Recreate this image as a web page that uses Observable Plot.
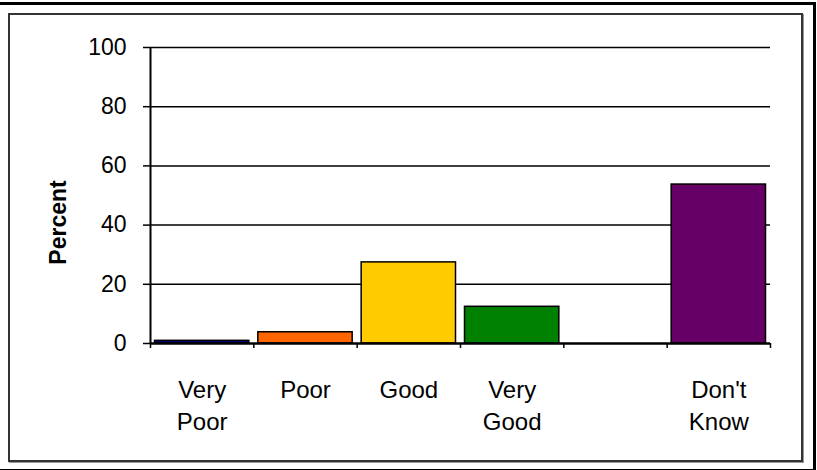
<!DOCTYPE html>
<html>
<head>
<meta charset="utf-8">
<script src="https://cdn.jsdelivr.net/npm/d3@7"></script>
<script src="https://cdn.jsdelivr.net/npm/@observablehq/plot@0.6"></script>
<style>
  html, body { margin: 0; padding: 0; background: #fff; }
  #wrap { position: relative; width: 817px; height: 470px; overflow: hidden; }
  #wrap svg { position: absolute; left: 0; top: 0; }
  .outer { position: absolute; left: -3px; top: 2px; width: 813px; height: 464px; border: 3px solid #000; pointer-events: none; }
  .inner { position: absolute; left: 8px; top: 13px; width: 791px; height: 445px; border: 2px solid #333; box-shadow: 1px 1px 0 #999; pointer-events: none; }
</style>
</head>
<body>
<div id="wrap"><div class="outer"></div><div class="inner"></div></div>
<script>
const categories = ["Very Poor", "Poor", "Good", "Very Good", "", "Don't Know"];
const labels = ["Very\nPoor", "Poor", "Good", "Very\nGood", "", "Don't\nKnow"];
const values = [0.9, 3.8, 27.4, 12.4, null, 53.7];
const colors = ["#000080", "#FF6600", "#FFCC00", "#008000", "#FFFFFF", "#660066"];
const yTicks = [0, 20, 40, 60, 80, 100];
const yLabel = "Percent";

const rows = categories.map((c, i) => ({i, cat: c, label: labels[i], value: values[i], color: colors[i]}));
const bars = rows.filter(d => d.value != null);

const chart = Plot.plot({
  width: 817,
  height: 470,
  marginLeft: 150,
  marginRight: 47,
  marginTop: 47,
  marginBottom: 127,
  style: {fontFamily: "'Liberation Sans', Arial, sans-serif", fontSize: "23px", background: "transparent", color: "#000"},
  x: {domain: [0, categories.length], axis: null},
  y: {domain: [0, 100], axis: null},
  marks: [
    Plot.ruleY(yTicks.filter(d => d > 0), {stroke: "#000", strokeWidth: 1.5}),
    Plot.axisY({ticks: yTicks, tickSize: 7, tickPadding: 17, label: null, strokeWidth: 1.5}),
    Plot.rectY(bars, {x1: d => d.i, x2: d => d.i + 1, y: "value", fill: d => d.color, stroke: "#000", strokeWidth: 1.5, insetLeft: 4.5, insetRight: 4.5}),
    Plot.ruleX([0], {stroke: "#000", strokeWidth: 2}),
    Plot.ruleY([0], {stroke: "#000", strokeWidth: 2.5}),
    Plot.axisX({ticks: d3.range(categories.length + 1), tickSize: 5, tickFormat: () => "", label: null, strokeWidth: 1.5}),
    Plot.text(rows, {x: d => d.i + 0.5, text: "label", frameAnchor: "bottom", lineAnchor: "top", dy: 31, lineHeight: 1.35, fontSize: 24}),
    Plot.text([yLabel], {frameAnchor: "left", textAnchor: "middle", dx: -92, dy: 27, rotate: -90, fontWeight: "bold"})
  ]
});
document.getElementById("wrap").appendChild(chart);
</script>
</body>
</html>
